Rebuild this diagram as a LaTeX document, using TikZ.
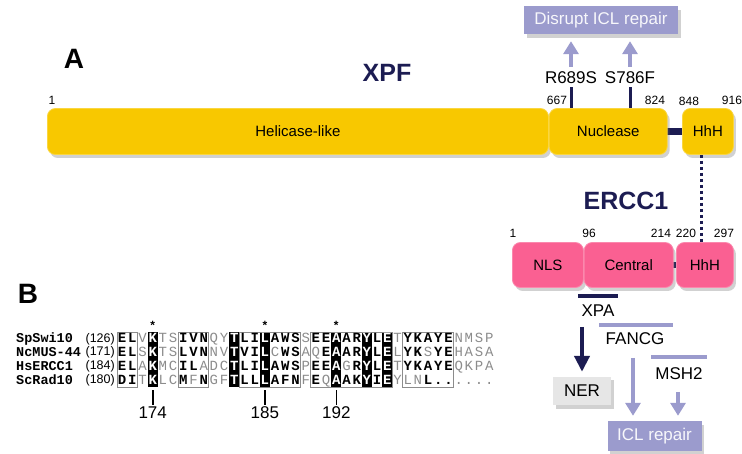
\documentclass[tikz,border=0pt]{standalone}
\usepackage{fontspec}
\setmainfont{Liberation Sans}
\setmonofont{Liberation Mono}
\usepackage{xcolor}
\usetikzlibrary{arrows.meta, positioning, shadows, calc}
\definecolor{xpfYellow}{RGB}{248,200,0}
\definecolor{erccPink}{RGB}{250,96,146}
\definecolor{deepNavy}{RGB}{28,28,82}
\definecolor{lavender}{RGB}{155,155,205}
\definecolor{nerGray}{RGB}{230,230,230}
\definecolor{resGray}{RGB}{140,140,140}
\newcommand{\fmtb}[1]{\textbf{#1}}
\newcommand{\fmtg}[1]{\textcolor{resGray}{#1}}
\newcommand{\fmtk}[1]{\textcolor{white}{\textbf{#1}}}
\tikzset{
    softshadow/.style={
        drop shadow={shadow xshift=2.5pt, shadow yshift=-3.5pt, fill=black!60, opacity=0.3}
    },
    xpfbox/.style={
        rectangle,
        rounded corners=8pt,
        fill=xpfYellow,
        draw=xpfYellow!75!white,
        line width=0.8pt,
        minimum height=46pt,
        inner sep=0pt,
        font=\fontsize{15}{18}\selectfont,
        softshadow
    },
    erccbox/.style={
        rectangle,
        rounded corners=8pt,
        fill=erccPink,
        draw=erccPink!75!white,
        line width=0.8pt,
        minimum height=45pt,
        inner sep=0pt,
        font=\fontsize{15}{18}\selectfont,
        softshadow
    },
    effectbox/.style={
        rectangle,
        fill=lavender,
        inner sep=0pt,
        text=white!92!lavender,
        font=\fontsize{17}{20}\selectfont,
        softshadow
    },
    nerbox/.style={
        rectangle,
        fill=nerGray,
        inner sep=0pt,
        font=\fontsize{17}{20}\selectfont,
        softshadow
    },
    title/.style={font=\bfseries\fontsize{25}{28}\selectfont, text=deepNavy, inner sep=0pt},
    panel/.style={font=\bfseries\fontsize{28}{30}\selectfont, inner sep=0pt},
    poslabel/.style={font=\fontsize{12}{14}\selectfont, inner sep=0pt},
    mutlabel/.style={font=\fontsize{17}{20}\selectfont, inner sep=0pt},
    bindlabel/.style={font=\fontsize{17}{20}\selectfont, inner sep=0pt},
    linker/.style={draw=deepNavy, line width=7pt},
    dimerline/.style={draw=deepNavy, line width=3pt, dash pattern=on 3pt off 3pt},
    mutline/.style={draw=deepNavy, line width=3pt},
    effectarrow/.style={-{Triangle[length=13pt,width=15pt]}, line width=4.5pt, draw=lavender},
    nerarrow/.style={-{Triangle[length=16pt,width=15pt]}, line width=4.5pt, draw=deepNavy},
    navybar/.style={draw=deepNavy, line width=4pt},
    lavbar/.style={draw=lavender, line width=4pt},
    seqname/.style={font=\ttfamily\bfseries\fontsize{13.5}{14}\selectfont, inner sep=0pt, text height=8pt, text depth=0pt},
    seqstart/.style={font=\fontsize{12.5}{14}\selectfont, inner sep=0pt},
    residue/.style={font=\ttfamily\fontsize{14}{14}\selectfont, inner sep=0pt, text height=8pt, text depth=0pt},
    alnframe/.style={draw=black!45, line width=0.9pt},
    starmark/.style={font=\bfseries\fontsize{12}{12}\selectfont, inner sep=0pt},
    markernum/.style={font=\fontsize{17}{20}\selectfont, inner sep=0pt},
    markertick/.style={draw=black, line width=1.6pt}
}

\begin{document}
\begin{tikzpicture}[x=1pt,y=-1pt]
    \useasboundingbox (0,0) rectangle (742,454);

    % panel A: XPF
    \node[panel] (panA) at (74,59) {A};
    \node[title] (xpftitle) at (387,73) {XPF};
    \draw[linker] (666,131.5) -- (682,131.5);
    \node[xpfbox, minimum width=501pt, anchor=west] (helicase) at (47,131.5) {Helicase-like};
    \node[xpfbox, minimum width=118pt, anchor=west] (nuclease) at (helicase.east) {Nuclease};
    \node[xpfbox, minimum width=51pt, anchor=west] (xpfhhh) at (682,131.5) {HhH};
    \node[poslabel] (xpf1) at (52,100) {1};
    \node[poslabel] (xpf667) at (557,100) {667};
    \node[poslabel] (xpf824) at (655,100) {824};
    \node[poslabel] (xpf848) at (689,101) {848};
    \node[poslabel] (xpf916) at (732,100) {916};

    % mutations
    \node[mutlabel] (r689s) at (571,78) {R689S};
    \node[mutlabel] (s786f) at (630,78) {S786F};
    \node[effectbox, minimum width=154pt, minimum height=28pt] (disrupt) at (601,20.5) {Disrupt ICL repair};
    \draw[mutline, shorten <=3pt] (r689s.south) -- (r689s.south |- nuclease.north);
    \draw[mutline, shorten <=3pt] (s786f.south) -- (s786f.south |- nuclease.north);
    \draw[effectarrow, shorten <=5pt, shorten >=6.5pt] (r689s.north) -- (r689s.north |- disrupt.south);
    \draw[effectarrow, shorten <=5pt, shorten >=6.5pt] (s786f.north) -- (s786f.north |- disrupt.south);

    % ERCC1
    \node[title] (erccTitle) at (626,201) {ERCC1};
    \draw[linker, line width=6pt] (671,265) -- (677,265);
    \node[erccbox, minimum width=71pt, anchor=west] (nls) at (512,265) {NLS};
    \node[erccbox, minimum width=89pt, anchor=west] (central) at (nls.east) {Central};
    \node[erccbox, minimum width=57pt, anchor=west] (erccHhH) at (676,265) {HhH};
    \node[poslabel] (ercc1) at (513,233) {1};
    \node[poslabel] (ercc96) at (589,233) {96};
    \node[poslabel] (ercc214) at (661,233) {214};
    \node[poslabel] (ercc220) at (686,233) {220};
    \node[poslabel] (ercc297) at (724,233) {297};
    \draw[dimerline] ([xshift=-6pt]xpfhhh.south) -- ([xshift=-6pt]xpfhhh.south |- erccHhH.north);

    % binding partners
    \draw[navybar] (578,296) -- (618,296);
    \node[bindlabel] (xpa) at (598,311) {XPA};
    \draw[lavbar] (599,325) -- (673,325);
    \node[bindlabel] (fancg) at (635,339) {FANCG};
    \draw[lavbar] (651,357) -- (707,357);
    \node[bindlabel] (msh2) at (679,374) {MSH2};
    \node[nerbox, minimum width=58pt, minimum height=28pt] (ner) at (582,391) {NER};
    \node[effectbox, minimum width=94pt, minimum height=30pt] (iclrepair) at (654.5,436) {ICL repair};
    \coordinate (xpadrop) at (582,327);
    \coordinate (fancgdrop) at (633,358);
    \coordinate (msh2drop) at (678,392);
    \draw[nerarrow, shorten >=5pt] (xpadrop) -- (xpadrop |- ner.north);
    \draw[effectarrow, shorten >=5pt] (fancgdrop) -- (fancgdrop |- iclrepair.north);
    \draw[effectarrow, shorten >=5pt] (msh2drop) -- (msh2drop |- iclrepair.north);

    % panel B: alignment
    \node[panel] (panB) at (28,294) {B};
    \foreach \c in {4,12,15,22,25,27}
        \fill[black] ({111.9+10.2*\c-5.1},332) rectangle ++(10.2,55);
    \foreach \a/\b in {1/2, 7/9, 13/18, 20/27, 29/33}
        \draw[alnframe] ({117+(\a-1)*10.2},332) rectangle ({117+\b*10.2},387);
    \foreach \nm/\st [count=\r] in {SpSwi10/126, NcMUS-44/171, HsERCC1/184, ScRad10/180} {
        \node[seqname, anchor=west] (nm\r) at (16,{325.3+13.7*\r}) {\nm};
        \node[seqstart, anchor=east] (st\r) at (115,{325.3+13.7*\r}) {(\st)};
    }
    \foreach \seq [count=\r] in {
        {E/b,L/b,V/g,K/k,T/g,S/g,I/b,V/b,N/b,Q/g,Y/g,T/k,L/b,I/b,L/k,A/b,W/b,S/b,S/g,E/b,E/b,A/k,A/b,R/b,Y/k,L/b,E/k,T/g,Y/b,K/b,A/b,Y/b,E/b,N/g,M/g,S/g,P/g},
        {E/b,L/b,S/g,K/k,T/g,S/g,L/b,V/b,N/b,N/g,V/g,T/k,V/b,I/b,L/k,C/g,W/b,S/b,A/g,Q/g,E/b,A/k,A/b,R/b,Y/k,L/b,E/k,L/g,Y/b,K/b,S/g,Y/b,E/b,H/g,A/g,S/g,A/g},
        {E/b,L/b,A/g,K/k,M/g,C/g,I/b,L/b,A/g,D/g,C/g,T/k,L/b,I/b,L/k,A/b,W/b,S/b,P/g,E/b,E/b,A/k,G/g,R/b,Y/k,L/b,E/k,T/g,Y/b,K/b,A/b,Y/b,E/b,Q/g,K/g,P/g,A/g},
        {D/b,I/b,T/g,K/k,L/g,C/g,M/b,F/g,N/b,G/g,F/g,T/k,L/b,L/b,L/k,A/b,F/b,N/b,F/g,E/b,Q/g,A/k,A/b,K/b,Y/k,I/b,E/k,Y/g,L/g,N/g,L/b,./b,./b,./g,./g,./g,./g}} {
        \foreach \res/\sty [count=\c] in \seq
            \node[residue] (a\r-\c) at ({111.9+10.2*\c},{325.3+13.7*\r}) {\csname fmt\sty\endcsname{\res}};
    }
    \foreach \c/\num in {4/174, 15/185, 22/192} {
        \node[starmark] (star\num) at ({111.9+10.2*\c},325) {*};
        \node[markernum] (num\num) at ({111.9+10.2*\c},413) {\num};
        \draw[markertick] (num\num.north) ++(0,-2) -- ++(0,-15);
    }
\end{tikzpicture}
\end{document}
